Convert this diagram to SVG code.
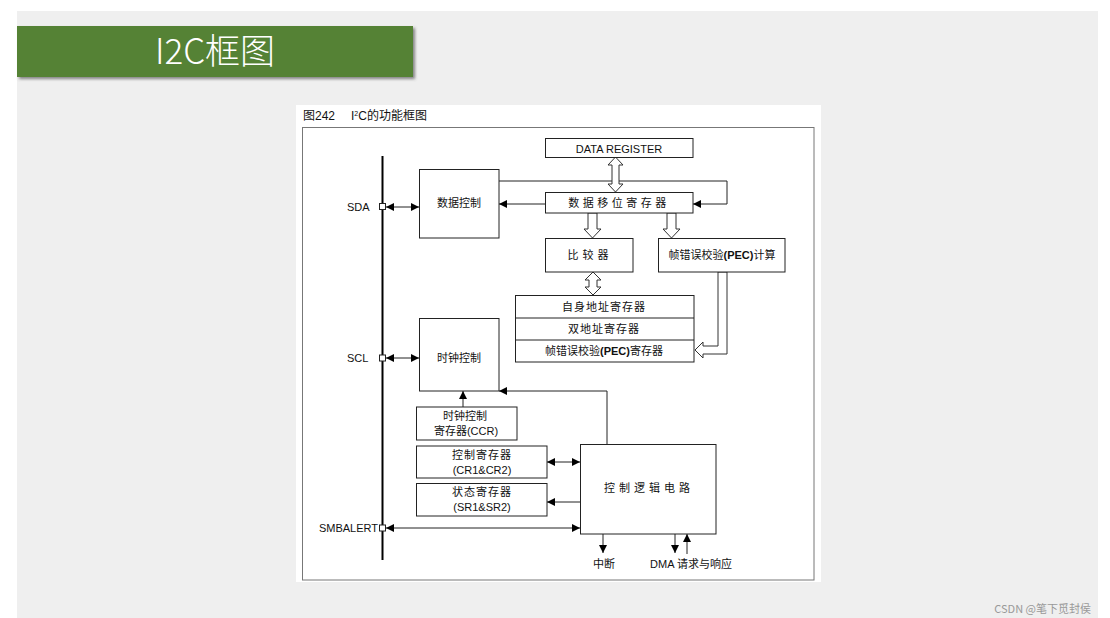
<svg xmlns="http://www.w3.org/2000/svg" width="1110" height="618" viewBox="0 0 1110 618">
<defs>
<marker id="ah" viewBox="0 0 10 10" refX="10" refY="5" markerWidth="8" markerHeight="8" markerUnits="userSpaceOnUse" orient="auto-start-reverse"><path d="M0,0 L10,5 L0,10 z" fill="#000"/></marker>
<filter id="sh" x="-5%" y="-20%" width="115%" height="160%"><feDropShadow dx="2" dy="2" stdDeviation="1.5" flood-color="#555" flood-opacity="0.7"/></filter>
</defs>
<style>
.box{fill:#fff;stroke:#222;stroke-width:1}
.ln{fill:none;stroke:#222;stroke-width:1}
.hol{fill:#fff;stroke:#333;stroke-width:1}
.t{font-family:"Liberation Sans","Noto Sans CJK SC",sans-serif;font-size:11px;fill:#111}
.cap{font-family:"Liberation Sans","Noto Sans CJK SC",sans-serif;font-size:12px;fill:#111}
.c{text-anchor:middle}
.sq{fill:#fff;stroke:#222;stroke-width:1}
</style>
<rect x="0" y="0" width="1110" height="618" fill="#fff"/>
<rect x="17" y="11" width="1081" height="607" fill="#efefef"/>
<g id="banner">
<rect x="17" y="26" width="396" height="51" fill="#548235" filter="url(#sh)"/>
<text x="215" y="64" text-anchor="middle" font-family="'Noto Sans CJK SC',sans-serif" font-weight="300" font-size="35" fill="#fff">I2C框图</text>
</g>
<rect x="296" y="105" width="525" height="477" fill="#fff"/>
<text class="cap" x="303" y="120">图242</text>
<text class="cap" x="351" y="120">I<tspan style="font-size:7px" dy="-4">2</tspan><tspan dy="4">C的功能框图</tspan></text>
<rect x="302.5" y="127.5" width="511.5" height="452.5" fill="none" stroke="#777" stroke-width="1"/>

<g id="connectors">
<line x1="382.5" y1="156" x2="382.5" y2="560" stroke="#000" stroke-width="2"/>
<line class="ln" x1="386" y1="207" x2="419" y2="207" marker-start="url(#ah)" marker-end="url(#ah)"/>
<line class="ln" x1="386" y1="358" x2="419" y2="358" marker-start="url(#ah)" marker-end="url(#ah)"/>
<line class="ln" x1="386" y1="528" x2="580" y2="528" marker-start="url(#ah)" marker-end="url(#ah)"/>
<polyline class="ln" points="499,181 727,181 727,204 693,204" marker-end="url(#ah)"/>
<line class="ln" x1="545" y1="204" x2="499" y2="204" marker-end="url(#ah)"/>
<polyline class="ln" points="607,444 607,391 499,391" marker-end="url(#ah)"/>
<line class="ln" x1="463" y1="407" x2="463" y2="391" marker-end="url(#ah)"/>
<line class="ln" x1="547" y1="462" x2="580" y2="462" marker-start="url(#ah)" marker-end="url(#ah)"/>
<line class="ln" x1="580" y1="502" x2="547" y2="502" marker-end="url(#ah)"/>
<line class="ln" x1="603" y1="534" x2="603" y2="553" marker-end="url(#ah)"/>
<line class="ln" x1="675" y1="534" x2="675" y2="553" marker-end="url(#ah)"/>
<line class="ln" x1="687" y1="554" x2="687" y2="534" marker-end="url(#ah)"/>
<path class="hol" d="M615.5,157 L623,165 L619,165 L619,184 L623,184 L615.5,192 L608,184 L612,184 L612,165 L608,165 Z"/>
<path class="hol" d="M588,213 L597,213 L597,229 L601,229 L592.5,238 L584,229 L588,229 Z"/>
<path class="hol" d="M667,213 L676,213 L676,229 L680,229 L671.5,238 L663,229 L667,229 Z"/>
<path class="hol" d="M593,272 L601,280 L597,280 L597,287 L601,287 L593,295 L585,287 L589,287 L589,280 L585,280 Z"/>
<path class="hol" d="M718,272 L727,272 L727,354 L703,354 L703,358 L695,350 L703,342 L703,346 L718,346 Z"/>
</g>

<g id="pins">
<rect class="sq" x="379.5" y="203.5" width="6" height="6"/>
<rect class="sq" x="379.5" y="355" width="6" height="6"/>
<rect class="sq" x="379.5" y="525" width="6" height="6"/>
<text class="t" x="347" y="211">SDA</text>
<text class="t" x="347" y="362">SCL</text>
<text class="t" x="378" y="532" text-anchor="end">SMBALERT</text>
</g>

<g id="data-control"><rect class="box" x="419.5" y="169.5" width="79.5" height="68.5"/><text class="t c" x="459" y="207">数据控制</text></g>
<g id="data-register"><rect class="box" x="545.5" y="138.5" width="147.5" height="19"/><text class="t c" x="619" y="153">DATA REGISTER</text></g>
<g id="shift-register"><rect class="box" x="545.5" y="192.5" width="147.5" height="20.5"/><text class="t c" x="619" y="207" letter-spacing="3.5">数据移位寄存器</text></g>
<g id="comparator"><rect class="box" x="545.5" y="238.5" width="87.5" height="33.5"/><text class="t c" x="590" y="259" letter-spacing="4">比较器</text></g>
<g id="pec-calc"><rect class="box" x="658.5" y="238.5" width="126.5" height="33.5"/><text class="t c" x="722" y="259">帧错误校验<tspan font-weight="bold">(PEC)</tspan>计算</text></g>
<g id="addr-registers">
<rect class="box" x="515.5" y="295.5" width="178.5" height="66.5"/>
<line class="ln" x1="515.5" y1="318" x2="694" y2="318"/>
<line class="ln" x1="515.5" y1="340" x2="694" y2="340"/>
<text class="t c" x="604" y="311" letter-spacing="1">自身地址寄存器</text>
<text class="t c" x="604" y="333" letter-spacing="1">双地址寄存器</text>
<text class="t c" x="604" y="355">帧错误校验<tspan font-weight="bold">(PEC)</tspan>寄存器</text>
</g>
<g id="clock-control"><rect class="box" x="419.5" y="318.5" width="79.5" height="72.5"/><text class="t c" x="459" y="362">时钟控制</text></g>
<g id="ccr"><rect class="box" x="416.5" y="407" width="100.5" height="33"/><text class="t c" x="465" y="420">时钟控制</text><text class="t c" x="466" y="435">寄存器(CCR)</text></g>
<g id="cr"><rect class="box" x="416.5" y="446" width="130.5" height="32"/><text class="t c" x="482" y="459" letter-spacing="1">控制寄存器</text><text class="t c" x="482" y="474">(CR1&amp;CR2)</text></g>
<g id="sr"><rect class="box" x="416.5" y="483.5" width="130.5" height="32.5"/><text class="t c" x="482" y="496" letter-spacing="1">状态寄存器</text><text class="t c" x="482" y="511">(SR1&amp;SR2)</text></g>
<g id="control-logic"><rect class="box" x="580.5" y="444.5" width="135.5" height="89.5"/><text class="t c" x="649" y="492" letter-spacing="4">控制逻辑电路</text></g>
<text class="t c" x="604" y="568">中断</text>
<text class="t c" x="691" y="568">DMA 请求与响应</text>
<text x="1091" y="613" text-anchor="end" font-family="'Noto Sans CJK SC',sans-serif" font-size="11" fill="#999">CSDN @笔下觅封侯</text>
</svg>
